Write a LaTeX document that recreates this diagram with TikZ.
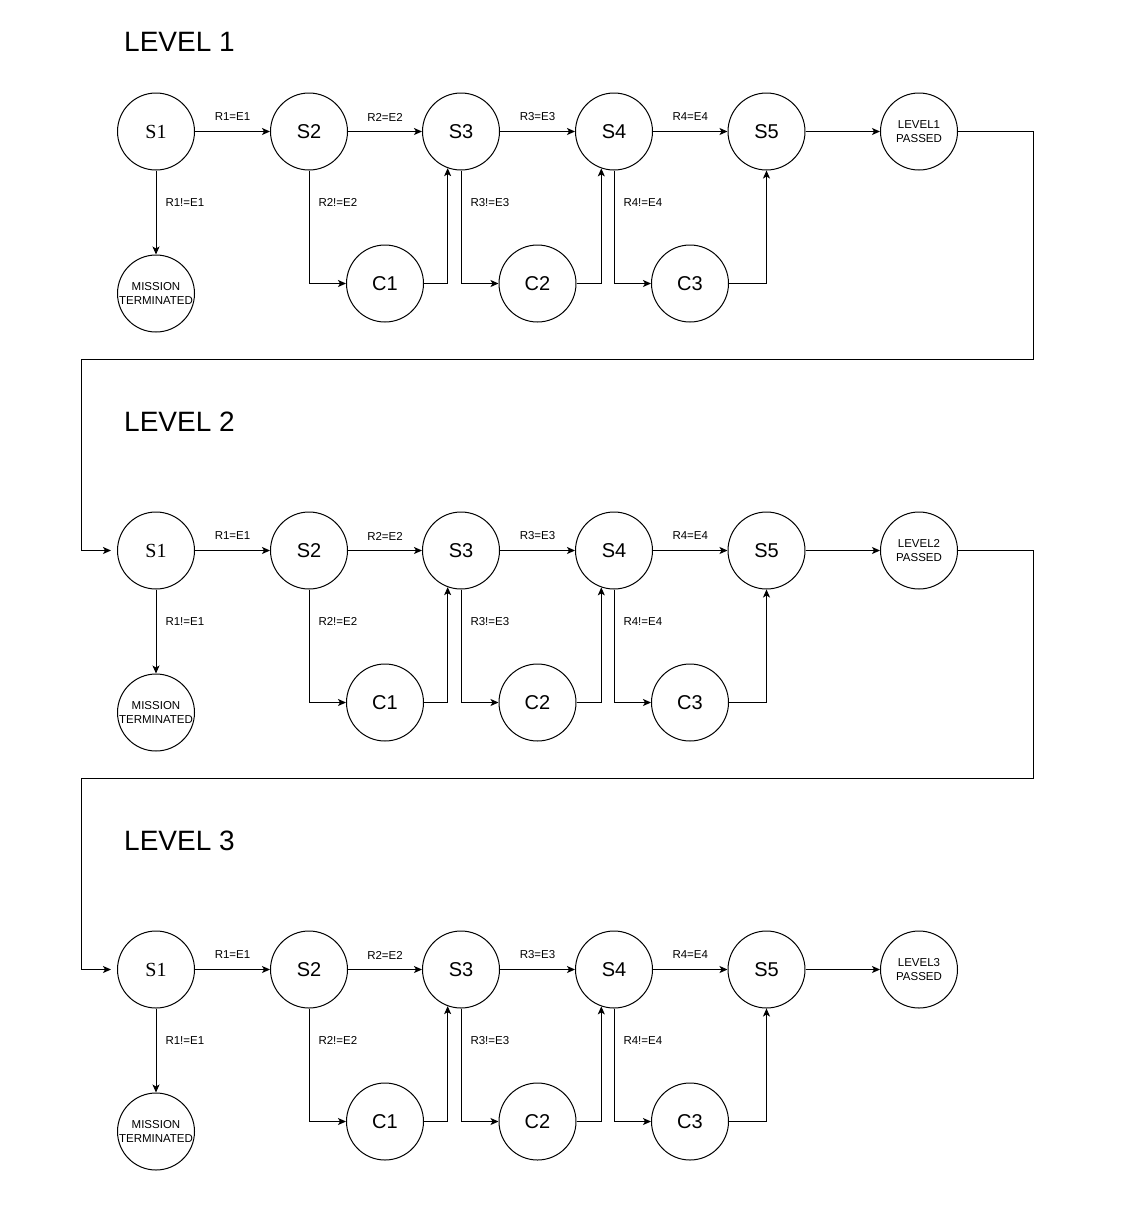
\documentclass[tikz,border=0pt]{standalone}
\usepackage{fontspec}
\setmainfont{Liberation Sans}
\newfontfamily\serifS{Liberation Serif}
\usetikzlibrary{arrows.meta}
\begin{document}
\begin{tikzpicture}[x=1pt,y=-1pt,
  st/.style={circle,draw,line width=1pt,minimum size=77pt,inner sep=0pt,font=\fontsize{20}{20}\selectfont},
  sst/.style={st,font=\serifS\fontsize{20}{20}\selectfont},
  small/.style={circle,draw,line width=1pt,minimum size=77pt,inner sep=0pt,align=center,font=\fontsize{11.5}{14}\selectfont},
  conn/.style={line width=1pt,-{Stealth[length=8pt,width=7pt,inset=2pt]}},
  lab/.style={font=\fontsize{11.5}{11.5}\selectfont,inner sep=0pt},
  hlab/.style={lab,midway,yshift=14.5pt},
  vlab/.style={lab,anchor=west,xshift=9pt},
  title/.style={font=\fontsize{28}{28}\selectfont,anchor=west,inner sep=0pt}
]
\useasboundingbox (0,0) rectangle (1129,1211);
\foreach \l/\y/\ty in {1/131.5/41.5,2/550.5/422,3/969.5/841}{
  \node[title] (L\l title) at (124,\ty) {LEVEL \l};
  \node[sst] (L\l s1) at (156,\y) {S1};
  \node[st] (L\l s2) at (309,\y) {S2};
  \node[st] (L\l s3) at (461,\y) {S3};
  \node[st] (L\l s4) at (614,\y) {S4};
  \node[st] (L\l s5) at (766.5,\y) {S5};
  \node[small] (L\l pass) at (919,\y) {LEVEL\l\\PASSED};
  \node[st] (L\l c1) at (385,\y+152) {C1};
  \node[st] (L\l c2) at (537.5,\y+152) {C2};
  \node[st] (L\l c3) at (690,\y+152) {C3};
  \node[small] (L\l mt) at (156,\y+162) {MISSION\\TERMINATED};
  \draw[conn] (L\l s1) -- node[hlab]{R1=E1} (L\l s2);
  \draw[conn] (L\l s2) -- node[hlab]{R2=E2} (L\l s3);
  \draw[conn] (L\l s3) -- node[hlab]{R3=E3} (L\l s4);
  \draw[conn] (L\l s4) -- node[hlab]{R4=E4} (L\l s5);
  \draw[conn] (L\l s5) -- (L\l pass);
  \draw[conn] (L\l s1) -- node[vlab,pos=0.38]{R1!=E1} (L\l mt);
  \draw[conn] (L\l s2.south) |- node[vlab,pos=0.14]{R2!=E2} (L\l c1.west);
  \draw[conn] (L\l s3.south) |- node[vlab,pos=0.14]{R3!=E3} (L\l c2.west);
  \draw[conn] (L\l s4.south) |- node[vlab,pos=0.14]{R4!=E4} (L\l c3.west);
  \draw[conn] (L\l c1.east) -| (L\l s3.-110);
  \draw[conn] (L\l c2.east) -| (L\l s4.-109);
  \draw[conn] (L\l c3.east) -| (L\l s5.south);
}
\coordinate (R1) at (1033,359);
\coordinate (K1) at (81,359);
\coordinate (R2) at (1033,778);
\coordinate (K2) at (81,778);
\draw[conn,shorten >=6pt] (L1pass.east) -| (R1) -- (K1) |- (L2s1.west);
\draw[conn,shorten >=6pt] (L2pass.east) -| (R2) -- (K2) |- (L3s1.west);
\end{tikzpicture}
\end{document}
